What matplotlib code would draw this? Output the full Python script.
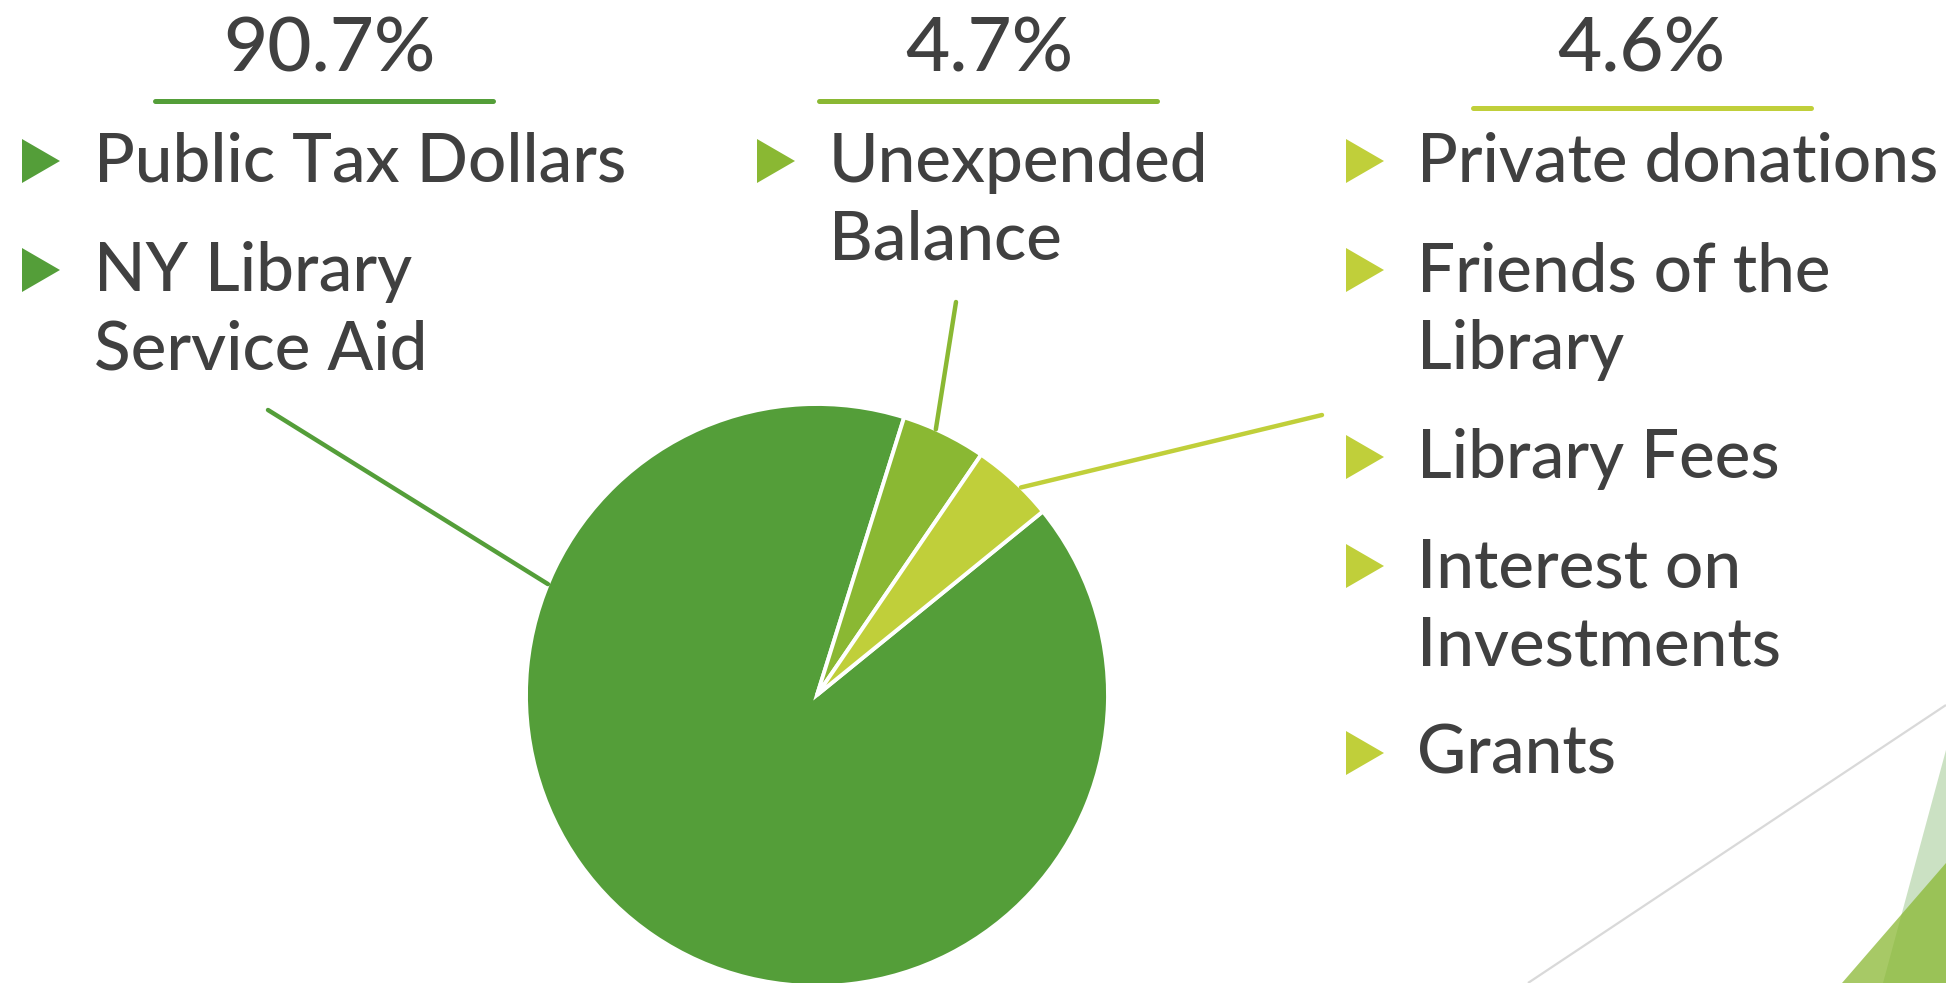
import numpy as np
import matplotlib
matplotlib.use("Agg")
import matplotlib.pyplot as plt
from matplotlib.patches import Polygon

# ---------------- data ----------------
shares = [90.7, 4.7, 4.6]
pct_labels = ["90.7%", "4.7%", "4.6%"]
slice_colors = ["#549E39", "#8AB833", "#C0CF3A"]
group_items = [
    [["Public Tax Dollars"], ["NY Library", "Service Aid"]],
    [["Unexpended", "Balance"]],
    [["Private donations"], ["Friends of the", "Library"], ["Library Fees"],
     ["Interest on", "Investments"], ["Grants"]],
]

# ---------------- layout (pixels) ----------------
W, H = 1946, 983
TEXT = "#404040"
FONT = ["Lato", "DejaVu Sans"]
cx, cy, R = 817, 695, 291            # pie centre / radius in pixels
start_angle = 39.1

pct_x = [329, 989, 1641]
pct_base = 71
uline_x = [(155, 493), (819, 1157), (1473, 1811)]
uline_y = [101, 101, 108]
bullet_x = [22, 757, 1346]
text_x = [94, 829, 1417]
first_base = 182
line_step = 78
para_step = 109
leader_angle = [157.6, 65.9, 45.5]
leader_end = [(268, 410), (956, 302), (1322, 415)]

fig = plt.figure(figsize=(W / 100, H / 100), dpi=100)
fig.patch.set_facecolor("white")

# pie axes
axp = fig.add_axes([(cx - R) / W, (H - cy - R) / H, 2 * R / W, 2 * R / H])
axp.pie(shares, colors=slice_colors, startangle=start_angle, counterclock=False,
        radius=1.0, wedgeprops=dict(edgecolor="white", linewidth=2.8))
axp.set_aspect("auto")
axp.set_xlim(-1, 1)
axp.set_ylim(-1, 1)
axp.axis("off")

# overlay axes in pixel coordinates
ax = fig.add_axes([0, 0, 1, 1], zorder=-1)
ax.set_xlim(0, W)
ax.set_ylim(H, 0)
ax.axis("off")
ax.patch.set_alpha(0)

ax2 = fig.add_axes([0, 0, 1, 1], zorder=5)
ax2.set_xlim(0, W)
ax2.set_ylim(H, 0)
ax2.axis("off")
ax2.patch.set_alpha(0)

# decoration bottom right
ax.plot([1528, 1946], [983, 705], color="#D9D9D9", lw=1.6, solid_capstyle="butt")
ax.add_patch(Polygon([(1946, 750), (1883, 983), (1946, 983)], closed=True,
                     facecolor="#549E39", alpha=0.3, lw=0))
ax.add_patch(Polygon([(1946, 863), (1842, 983), (1946, 983)], closed=True,
                     facecolor="#8AB833", alpha=0.75, lw=0))

# leader lines
for ang, (ex, ey), col in zip(leader_angle, leader_end, slice_colors):
    a = np.deg2rad(ang)
    sx, sy = cx + R * np.cos(a), cy - R * np.sin(a)
    ax2.plot([sx, ex], [sy, ey], color=col, lw=3.2, solid_capstyle="round")

# percentages, underlines, bullets, item text
for g in range(3):
    col = slice_colors[g]
    ax2.text(pct_x[g], pct_base, pct_labels[g], ha="center", va="baseline",
             fontsize=55, color=TEXT, family=FONT, fontweight=500)
    ax2.plot(uline_x[g], [uline_y[g]] * 2, color=col, lw=3.6, solid_capstyle="round")
    base = first_base
    for para in group_items[g]:
        tcy = base - 21
        bx = bullet_x[g]
        ax2.add_patch(Polygon([(bx, tcy - 22), (bx, tcy + 22), (bx + 38, tcy)],
                              closed=True, facecolor=col, lw=0))
        for k, line in enumerate(para):
            ax2.text(text_x[g], base + k * line_step, line, ha="left", va="baseline",
                     fontsize=48.5, color=TEXT, family=FONT, fontweight=500)
        base += (len(para) - 1) * line_step + para_step

fig.savefig("out.png", dpi=100, facecolor="white")
